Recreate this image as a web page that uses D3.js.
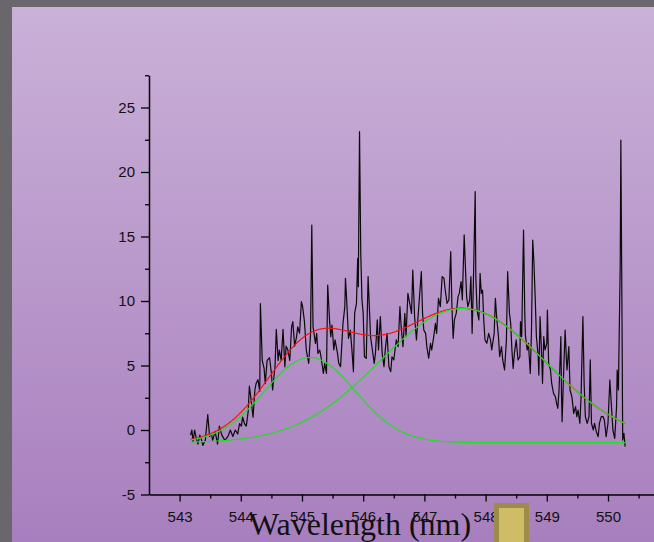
<!DOCTYPE html>
<html>
<head>
<meta charset="utf-8">
<script src="https://cdn.jsdelivr.net/npm/d3@7"></script>
<style>
  html, body { margin: 0; padding: 0; background: #69676c; }
  svg { display: block; }
</style>
</head>
<body>
<svg id="chart" width="654" height="542"></svg>
<script>
// ---------------- DATA ----------------
const wavelength = [
543.18,543.20,543.22,543.245,543.27,543.30,543.33,543.36,543.38,543.42,543.46,543.49,543.52,543.54,543.58,543.62,543.65,543.69,543.74,543.79,
543.83,543.87,543.91,543.95,543.98,544.01,544.03,544.06,544.09,544.12,544.14,544.17,544.20,544.23,544.25,544.28,544.31,544.32,544.35,544.38,
544.40,544.43,544.47,544.50,544.52,544.56,544.58,544.61,544.63,544.66,544.69,544.72,544.74,544.77,544.80,544.83,544.85,544.88,544.91,544.93,
544.96,544.99,545.01,545.04,545.07,545.11,545.14,545.16,545.18,545.22,545.24,545.26,545.29,545.31,545.35,545.37,545.40,545.42,545.45,545.47,
545.49,545.52,545.54,545.58,545.60,545.63,545.67,545.70,545.71,545.73,545.76,545.79,545.82,545.84,545.86,545.89,545.91,545.92,545.94,545.96,
545.98,546.00,546.02,546.05,546.08,546.10,546.12,546.15,546.18,546.20,546.23,546.25,546.28,546.31,546.34,546.36,546.39,546.42,546.45,546.47,
546.50,546.54,546.57,546.60,546.62,546.65,546.68,546.70,546.73,546.76,546.79,546.81,546.84,546.87,546.90,546.95,546.97,546.99,547.02,547.04,
547.07,547.10,547.12,547.16,547.18,547.20,547.23,547.26,547.29,547.32,547.34,547.37,547.40,547.43,547.45,547.47,547.49,547.52,547.55,547.57,
547.60,547.62,547.65,547.67,547.69,547.71,547.74,547.76,547.78,547.80,547.83,547.84,547.86,547.89,547.91,547.93,547.95,547.97,547.99,548.02,
548.05,548.08,548.10,548.14,548.16,548.18,548.21,548.23,548.26,548.28,548.31,548.34,548.36,548.39,548.41,548.43,548.45,548.47,548.50,548.53,
548.56,548.57,548.59,548.62,548.64,548.65,548.68,548.70,548.73,548.75,548.77,548.79,548.81,548.83,548.86,548.87,548.89,548.92,548.93,548.95,
548.97,549.00,549.01,549.03,549.06,549.08,549.11,549.14,549.16,549.18,549.20,549.23,549.24,549.25,549.28,549.30,549.32,549.33,549.36,549.38,
549.41,549.44,549.47,549.49,549.51,549.54,549.56,549.59,549.61,549.63,549.66,549.69,549.71,549.73,549.76,549.78,549.81,549.84,549.86,549.89,
549.92,549.94,549.97,550.00,550.03,550.05,550.08,550.11,550.14,550.15,550.17,550.20,550.21,550.23,550.24,550.26,550.28
];
const intensity = [
-0.4,0.0,-0.9,0.0,-0.6,-1.1,-0.4,-0.8,-1.2,-0.8,1.2,-0.5,-0.3,-0.8,-0.1,-1.1,0.3,-0.4,-0.8,-0.5,
0.0,-0.5,0.0,-0.3,0.5,0.3,1.0,0.5,0.3,1.4,3.4,2.3,1.0,3.1,3.6,3.9,3.0,9.8,5.4,4.8,
3.6,5.4,5.6,4.4,3.1,5.0,7.8,5.4,6.2,5.4,7.8,4.9,6.5,6.2,5.4,8.0,8.4,6.5,7.2,8.0,
7.5,9.95,9.56,8.40,6.20,5.17,7.49,15.89,8.01,6.72,7.49,5.94,6.20,5.68,4.39,5.17,4.39,11.24,8.53,7.24,
8.14,6.20,6.98,5.94,5.17,4.91,8.27,9.56,11.76,10.08,7.11,7.75,5.94,4.52,9.04,9.82,13.31,11.11,23.13,13.70,
10.08,9.04,5.68,5.56,11.89,9.56,7.24,6.20,5.17,5.94,8.53,6.20,8.79,5.94,4.91,6.20,7.49,4.91,4.52,5.68,
5.43,6.98,6.46,9.56,8.01,6.46,9.04,7.24,10.59,9.82,9.04,12.40,8.79,6.98,9.04,12.27,9.04,7.75,7.49,6.46,
5.56,6.72,6.20,7.49,8.27,7.49,10.21,9.56,11.89,11.76,10.85,9.82,10.08,13.82,9.56,7.11,8.53,9.04,10.34,10.59,
11.50,10.08,15.12,12.66,10.34,9.56,10.08,11.89,7.49,11.37,18.48,11.89,9.30,8.53,12.14,10.59,10.85,8.53,6.98,6.72,
7.49,6.98,6.20,7.49,10.21,8.79,7.24,5.68,6.46,5.43,4.65,6.98,12.27,9.04,8.27,6.20,4.78,5.94,6.98,5.43,
5.68,8.40,7.24,15.50,9.04,7.36,6.20,6.72,4.39,7.75,14.73,12.92,10.34,7.24,5.68,4.26,8.79,5.17,3.62,7.24,
6.20,6.72,9.30,5.17,4.65,3.62,2.84,2.58,2.07,1.68,3.10,7.24,2.84,0.65,5.17,7.75,5.43,4.65,6.46,3.10,
2.58,1.29,1.81,1.03,1.55,0.52,2.58,8.79,3.62,1.03,0.52,1.03,5.43,0.52,0.00,0.52,-0.13,-0.52,0.52,1.03,
1.03,0.78,-0.52,0.52,3.88,2.33,0.00,-0.65,1.81,4.65,3.10,12.92,22.48,7.75,-0.78,-0.26,-1.29
];

// Gaussian fit parameters
const fitBaseline = -0.98;
const peakCenters = [545.13, 547.62];
const peakHeights = [6.6, 10.4];
const peakSigmas  = [0.74, 1.35];
const fitRange    = [543.18, 550.28];

// Axis ticks
const xMajorTicks = [543, 544, 545, 546, 547, 548, 549, 550];
const xMinorTicks = [543.5, 544.5, 545.5, 546.5, 547.5, 548.5, 549.5, 550.5];
const yMajorTicks = [-5, 0, 5, 10, 15, 20, 25];
const yMinorTicks = [-2.5, 2.5, 7.5, 12.5, 17.5, 22.5, 27.5];
const xTitle = "Wavelength (nm)";

// ---------------- DRAWING ----------------
const svg = d3.select("#chart");
const W = 654, H = 542;

const defs = svg.append("defs");
const grad = defs.append("linearGradient").attr("id", "bg").attr("x1", 0).attr("y1", 0).attr("x2", 0).attr("y2", 1);
grad.append("stop").attr("offset", "0%").attr("stop-color", "#cab1d8");
grad.append("stop").attr("offset", "100%").attr("stop-color", "#a87fbe");

svg.append("rect").attr("x", 0).attr("y", 0).attr("width", W).attr("height", H).attr("fill", "#69676c");
svg.append("rect").attr("x", 12).attr("y", 7).attr("width", W - 12).attr("height", H - 7).attr("fill", "url(#bg)");

const x = d3.scaleLinear().domain([542.5, 551]).range([149, 149 + 8.5 * 61.2]);
const y = d3.scaleLinear().domain([-5, 27.5]).range([494.5, 494.5 - 32.5 * 12.9]);

const clip = defs.append("clipPath").attr("id", "plotclip");
clip.append("rect").attr("x", 149).attr("y", 0).attr("width", W - 149).attr("height", 494.5);

// fit curves
const gauss = (xv, i) => peakHeights[i] * Math.exp(-((xv - peakCenters[i]) ** 2) / (2 * peakSigmas[i] ** 2));
const xs = d3.range(fitRange[0], fitRange[1] + 0.001, 0.01);
const g1 = xs.map(v => [v, fitBaseline + gauss(v, 0)]);
const g2 = xs.map(v => [v, fitBaseline + gauss(v, 1)]);
const sum = xs.map(v => [v, fitBaseline + gauss(v, 0) + gauss(v, 1)]);

const line = d3.line().x(d => x(d[0])).y(d => y(d[1]));

const plot = svg.append("g").attr("clip-path", "url(#plotclip)");
const data = wavelength.map((w, i) => [w, intensity[i]]);
plot.append("path").datum(data).attr("d", line)
  .attr("fill", "none").attr("stroke", "#0a0a0a").attr("stroke-width", 1.2).attr("stroke-linejoin", "round");
plot.append("path").datum(sum).attr("d", line)
  .attr("fill", "none").attr("stroke", "#ff1010").attr("stroke-width", 1.2);
plot.append("path").datum(g1).attr("d", line)
  .attr("fill", "none").attr("stroke", "#1ee01e").attr("stroke-width", 1.2);
plot.append("path").datum(g2).attr("d", line)
  .attr("fill", "none").attr("stroke", "#1ee01e").attr("stroke-width", 1.2);

// axes
const font = "'Liberation Sans', Arial, sans-serif";
const fmt = d => String(d);
svg.append("g").attr("transform", "translate(149,0)")
  .call(d3.axisLeft(y).tickValues(yMajorTicks).tickSize(8).tickSizeOuter(0).tickPadding(6).tickFormat(fmt));
svg.append("g").attr("transform", "translate(149,0)")
  .call(d3.axisLeft(y).tickValues(yMinorTicks).tickSize(4).tickSizeOuter(0).tickFormat(""))
  .select(".domain").remove();

svg.append("g").attr("transform", "translate(0,494.5)")
  .call(d3.axisBottom(x).tickValues(xMajorTicks).tickSize(7).tickSizeOuter(0).tickPadding(10).tickFormat(fmt));
svg.append("g").attr("transform", "translate(0,494.5)")
  .call(d3.axisBottom(x).tickValues(xMinorTicks).tickSize(4).tickSizeOuter(0).tickFormat(""))
  .select(".domain").remove();

svg.selectAll(".tick line").attr("stroke", "#000").attr("stroke-width", 1.3);
svg.selectAll(".domain").attr("stroke", "#000").attr("stroke-width", 1.5);
svg.selectAll(".tick text").attr("font-family", font).attr("font-size", 15).attr("fill", "#111");

// x title
svg.append("text").attr("x", 360).attr("y", 535).attr("text-anchor", "middle")
  .attr("font-family", "'Liberation Serif', 'Times New Roman', serif").attr("font-size", 32)
  .attr("fill", "#111").text(xTitle);

// yellow square
svg.append("rect").attr("x", 496.5).attr("y", 505.5).attr("width", 30).attr("height", 45)
  .attr("fill", "#cfbd66").attr("stroke", "#9c8b4b").attr("stroke-width", 5);
</script>
</body>
</html>
